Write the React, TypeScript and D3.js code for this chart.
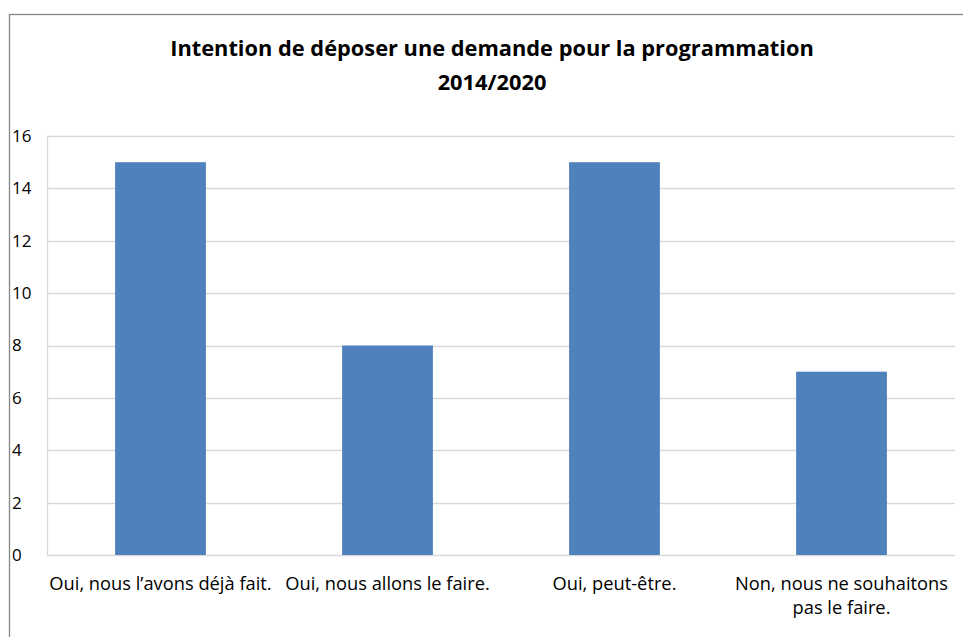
import * as d3 from "d3";

const categories = [
  ["Oui, nous l’avons déjà fait."],
  ["Oui, nous allons le faire."],
  ["Oui, peut-être."],
  ["Non, nous ne souhaitons", "pas le faire."],
];
const values = [15, 8, 15, 7];
const yTicks = [0, 2, 4, 6, 8, 10, 12, 14, 16];
const titleLines = ["Intention de déposer une demande pour la programmation", "2014/2020"];

const W = 963;
const H = 637;
const FONT = "'Open Sans', sans-serif";

export default function App() {
  const plot = { left: 47, right: 955, top: 136, bottom: 555 };

  const x = d3
    .scaleBand<number>()
    .domain(d3.range(categories.length))
    .range([plot.left, plot.right])
    .padding(0);
  const barW = x.bandwidth() * 0.4;
  const y = d3.scaleLinear().domain([0, 16]).range([plot.bottom, plot.top]);

  return (
    <svg
      width={W}
      height={H}
      style={{ position: "absolute", left: 0, top: 0, background: "#fff" }}
      fontFamily={FONT}
    >
      {/* chart frame, cut off at right and bottom */}
      <rect x={9.5} y={14.5} width={990} height={700} fill="none" stroke="#868686" strokeWidth={1.3} />

      {/* title */}
      <text x={492} y={56} textAnchor="middle" fontWeight="bold" fontSize={21.8} fill="#000">
        {titleLines[0]}
      </text>
      <text x={492} y={90} textAnchor="middle" fontWeight="bold" fontSize={21.8} fill="#000">
        {titleLines[1]}
      </text>

      {/* gridlines */}
      {yTicks.map((t) => (
        <line
          key={t}
          x1={plot.left}
          x2={plot.right}
          y1={Math.round(y(t)) + 0.5}
          y2={Math.round(y(t)) + 0.5}
          stroke="#d9d9d9"
          strokeWidth={1.3}
        />
      ))}
      <line x1={plot.left + 0.5} x2={plot.left + 0.5} y1={plot.top} y2={plot.bottom} stroke="#d9d9d9" strokeWidth={1.3} />

      {/* y labels */}
      {yTicks.map((t) => (
        <text key={t} x={12} y={y(t)} dy="0.35em" fontSize={17} fill="#000">
          {t}
        </text>
      ))}

      {/* bars */}
      {values.map((v, i) => (
        <rect
          key={i}
          x={x(i)! + (x.bandwidth() - barW) / 2}
          y={y(v)}
          width={barW}
          height={y(0) - y(v)}
          fill="#4f81bd"
        />
      ))}

      {/* category labels */}
      {categories.map((lines, i) => (
        <text key={i} x={x(i)! + x.bandwidth() / 2} y={590} textAnchor="middle" fontSize={18.3} fill="#000">
          {lines.map((l, j) => (
            <tspan key={j} x={x(i)! + x.bandwidth() / 2} dy={j === 0 ? 0 : 24}>
              {l}
            </tspan>
          ))}
        </text>
      ))}
    </svg>
  );
}
